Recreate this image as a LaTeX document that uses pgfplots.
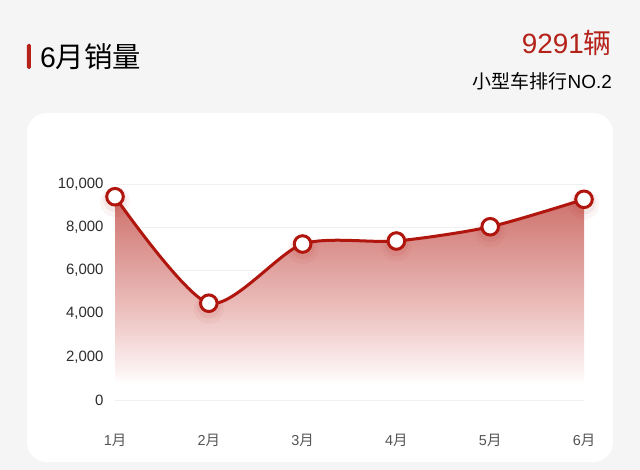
\documentclass[border=0pt]{standalone}
\usepackage{pgfplots}
\usepackage{pgfplotstable}
\pgfplotsset{compat=1.18}
\usetikzlibrary{calc}
\usepackage{fontspec}
\setmainfont{Liberation Sans}
\newfontfamily\cjk{Noto Sans CJK SC}
\definecolor{bgc}{RGB}{245,245,245}
\definecolor{lred}{RGB}{176,22,14}
\definecolor{tred}{RGB}{180,34,26}
\definecolor{fadeA}{RGB}{206,112,107}
\definecolor{fadeB}{RGB}{236,192,190}
\definecolor{fadeC}{RGB}{252,242,242}
\definecolor{gridc}{RGB}{240,240,240}
\definecolor{ylab}{RGB}{45,45,45}
\definecolor{xlab}{RGB}{85,85,85}
\pgfdeclareverticalshading{myfade}{100bp}{color(0bp)=(white); color(29bp)=(white); color(32bp)=(fadeC); color(47bp)=(fadeB); color(75bp)=(fadeA); color(100bp)=(fadeA)}
\pgfdeclarelayer{background}
\pgfsetlayers{background,main}
\pgfplotstableread{
x y
0 9410
1 4480
2 7220
3 7360
4 8020
5 9291
}\sales
\begin{document}
\begin{tikzpicture}
\begin{axis}[
  scale only axis, width=469bp, height=216bp,
  xmin=0, xmax=5, ymin=0, ymax=10000,
  clip=false,
  axis line style={draw=none},
  major tick length=0pt,
  ymajorgrids, major grid style={gridc, line width=0.8bp},
  ytick={0,2000,4000,6000,8000,10000},
  scaled y ticks=false,
  xtick={0,1,2,3,4,5},
  xticklabels={1{\cjk 月},2{\cjk 月},3{\cjk 月},4{\cjk 月},5{\cjk 月},6{\cjk 月}},
  /pgf/number format/assume math mode=true,
  /pgf/number format/1000 sep={,},
  yticklabel style={text=ylab, font=\fontsize{15}{17}\selectfont, xshift=-8bp},
  xticklabel style={text=xlab, font=\fontsize{14.5}{16}\selectfont, yshift=-31bp},
]
\addplot[draw=none, shade, shading=myfade, smooth, tension=0.45] table[x=x,y=y]{\sales} \closedcycle;
\addplot[only marks, mark=*, mark size=15bp, mark options={solid, fill=lred, draw opacity=0, fill opacity=0.04}] table[x=x,y expr=\thisrow{y}-250]{\sales};
\addplot[only marks, mark=*, mark size=12bp, mark options={solid, fill=lred, draw opacity=0, fill opacity=0.06}] table[x=x,y expr=\thisrow{y}-150]{\sales};
\addplot[lred, line width=3bp, smooth, tension=0.45] table[x=x,y=y]{\sales};
\addplot[only marks, mark=*, mark size=8.3bp, mark options={solid, draw=lred, fill=white, line width=3bp}] table[x=x,y=y]{\sales};
\coordinate (O) at (axis cs:0,0);
\end{axis}
\begin{scope}[x=1bp, y=1bp, shift={(O)}, xshift=-115bp, yshift=-70bp]
\begin{pgfonlayer}{background}
\fill[bgc] (0,0) rectangle (640,470);
\fill[white, rounded corners=20bp] (27,8) rectangle (613,357);
\end{pgfonlayer}
\fill[tred, rounded corners=1.5bp] (27,401) rectangle (31,426);
\node[anchor=base west, inner sep=0pt, text=black] at (40,402) {\fontsize{28.5}{30}\selectfont 6{\cjk 月销量}};
\node[anchor=base east, inner sep=0pt, text=tred] at (612,416) {\fontsize{28}{30}\selectfont 9291{\cjk 辆}};
\node[anchor=base east, inner sep=0pt, text=black] at (612,381) {\fontsize{19}{21}\selectfont {\cjk 小型车排行}NO.2};
\pgfresetboundingbox
\useasboundingbox (0,0) rectangle (640,470);
\end{scope}
\end{tikzpicture}
\end{document}
